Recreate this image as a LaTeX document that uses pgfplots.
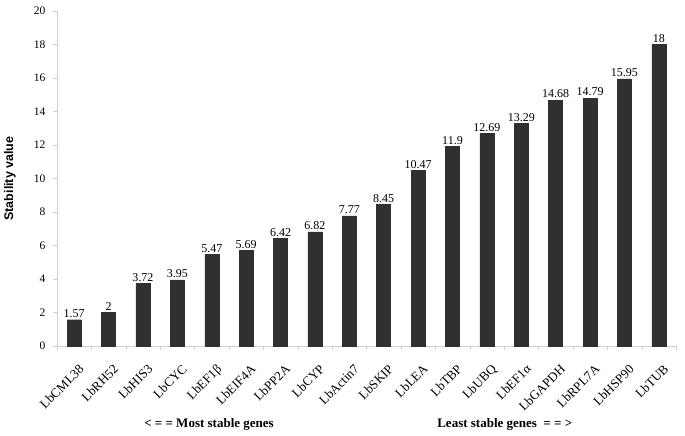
\documentclass[border=0pt]{standalone}
\usepackage{pgfplots}
\pgfplotsset{compat=1.18}
\usepackage{pgfplotstable}
\usepackage{fontspec}
\setmainfont{Liberation Serif}
\newfontfamily\labsans{Liberation Sans}
\definecolor{barc}{HTML}{303030}
\definecolor{axc}{HTML}{D0D0D0}
\pgfplotstableread{
x v lab
0 1.57 1.57
1 2 2
2 3.72 3.72
3 3.95 3.95
4 5.47 5.47
5 5.69 5.69
6 6.42 6.42
7 6.82 6.82
8 7.77 7.77
9 8.45 8.45
10 10.47 10.47
11 11.9 11.9
12 12.69 12.69
13 13.29 13.29
14 14.68 14.68
15 14.79 14.79
16 15.95 15.95
17 18 18
}\data
\begin{document}
\begin{tikzpicture}
\begin{axis}[
  scale only axis, width=619pt, height=335pt,
  xmin=-0.5, xmax=17.5, ymin=0, ymax=20,
  ytick={0,2,...,20},
  xtick={0,...,17},
  xticklabels={LbCML38,LbRH52,LbHIS3,LbCYC,LbEF1β,LbEIF4A,LbPP2A,LbCYP,LbActin7,LbSKIP,LbLEA,LbTBP,LbUBQ,LbEF1α,LbGAPDH,LbRPL7A,LbHSP90,LbTUB},
  minor xtick={-0.5,0.5,...,17.5},
  major x tick style={draw=none},
  minor tick length=4pt,
  major tick length=4pt,
  tick align=outside,
  tick style={axc},
  axis x line*=bottom, axis y line*=left,
  axis line style={axc},
  x tick label style={yshift=-12pt, xshift=4pt, rotate=45, anchor=north east, font=\fontsize{13}{14}\selectfont, inner sep=1pt},
  y tick label style={font=\fontsize{11.5}{12}\selectfont, xshift=-4pt},
  /pgf/number format/assume math mode=true,
  ylabel={Stability value},
  ylabel style={font=\labsans\bfseries\fontsize{12.5}{13}\selectfont, at={(axis description cs:-0.076,0.5)}, anchor=center},
  nodes near coords,
  point meta=explicit symbolic,
  nodes near coords style={font=\fontsize{12}{13}\selectfont, text=black, inner sep=2pt},
  clip=false,
]
\addplot[ybar, bar width=14pt, fill=barc, draw=barc] table[x=x, y=v, meta=lab] {\data};
\node[font=\bfseries\fontsize{13}{14}\selectfont] at (axis cs:3.92,0) [yshift=-78pt] {< = = Most stable genes};
\node[font=\bfseries\fontsize{13}{14}\selectfont] at (axis cs:12.52,0) [yshift=-78pt] {Least stable genes~ = = >};
\end{axis}
\pgfresetboundingbox
\path[use as bounding box] ([shift={(-57pt,-90pt)}]current axis.south west) rectangle ([shift={(9pt,11pt)}]current axis.north east);
\end{tikzpicture}
\end{document}
